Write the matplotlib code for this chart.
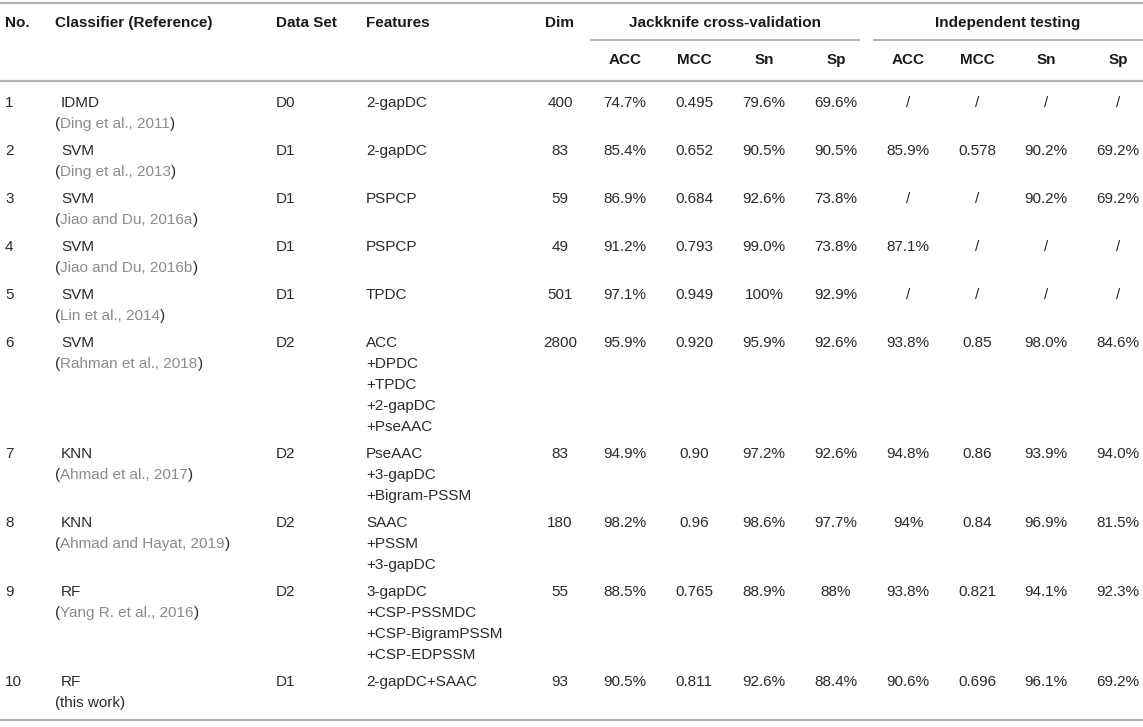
import matplotlib
matplotlib.use("Agg")
import matplotlib.pyplot as plt

plt.rcParams["font.family"] = ["Liberation Sans", "DejaVu Sans"]

# table content
numbers = ["1", "2", "3", "4", "5", "6", "7", "8", "9", "10"]
classifiers = ["IDMD", "SVM", "SVM", "SVM", "SVM", "SVM", "KNN", "KNN", "RF", "RF"]
references = [
    "Ding et al., 2011", "Ding et al., 2013", "Jiao and Du, 2016a",
    "Jiao and Du, 2016b", "Lin et al., 2014", "Rahman et al., 2018",
    "Ahmad et al., 2017", "Ahmad and Hayat, 2019", "Yang R. et al., 2016",
    "this work",
]
data_sets = ["D0", "D1", "D1", "D1", "D1", "D2", "D2", "D2", "D2", "D1"]
features = [
    ["2-gapDC"],
    ["2-gapDC"],
    ["PSPCP"],
    ["PSPCP"],
    ["TPDC"],
    ["ACC", "+DPDC", "+TPDC", "+2-gapDC", "+PseAAC"],
    ["PseAAC", "+3-gapDC", "+Bigram-PSSM"],
    ["SAAC", "+PSSM", "+3-gapDC"],
    ["3-gapDC", "+CSP-PSSMDC", "+CSP-BigramPSSM", "+CSP-EDPSSM"],
    ["2-gapDC+SAAC"],
]
dims = ["400", "83", "59", "49", "501", "2800", "83", "180", "55", "93"]
jack_acc = ["74.7%", "85.4%", "86.9%", "91.2%", "97.1%", "95.9%", "94.9%", "98.2%", "88.5%", "90.5%"]
jack_mcc = ["0.495", "0.652", "0.684", "0.793", "0.949", "0.920", "0.90", "0.96", "0.765", "0.811"]
jack_sn = ["79.6%", "90.5%", "92.6%", "99.0%", "100%", "95.9%", "97.2%", "98.6%", "88.9%", "92.6%"]
jack_sp = ["69.6%", "90.5%", "73.8%", "73.8%", "92.9%", "92.6%", "92.6%", "97.7%", "88%", "88.4%"]
ind_acc = ["/", "85.9%", "/", "87.1%", "/", "93.8%", "94.8%", "94%", "93.8%", "90.6%"]
ind_mcc = ["/", "0.578", "/", "/", "/", "0.85", "0.86", "0.84", "0.821", "0.696"]
ind_sn = ["/", "90.2%", "90.2%", "/", "/", "98.0%", "93.9%", "96.9%", "94.1%", "96.1%"]
ind_sp = ["/", "69.2%", "69.2%", "/", "/", "84.6%", "94.0%", "81.5%", "92.3%", "69.2%"]

left_headers = ["No.", "Classifier (Reference)", "Data Set", "Features"]
group_headers = ["Jackknife cross-validation", "Independent testing"]
metric_headers = ["ACC", "MCC", "Sn", "Sp"]

W, H = 1143, 727
fig = plt.figure(figsize=(W / 100, H / 100), dpi=100)
ax = fig.add_axes([0, 0, 1, 1])
ax.set_xlim(0, W)
ax.set_ylim(H, 0)
ax.axis("off")

FS = 11
TXT = "#2b2b2b"
HDR = "#1a1a1a"
CITE = "#8a8a8a"
RULE = "#b4b4b4"

x_no, x_cls, x_ds, x_feat, x_dim = 5, 55, 276, 366, 560
metric_x = [625, 694, 764, 836, 908, 977, 1046, 1118]

# rules
ax.hlines([3, 81, 720], 0, W, color=RULE, lw=1.6)
ax.hlines(40, 590, 860, color=RULE, lw=1.4)
ax.hlines(40, 873, W, color=RULE, lw=1.4)

# header
for x, label in zip([x_no, x_cls, x_ds, x_feat], left_headers):
    ax.text(x, 23, label, fontsize=FS, fontweight="bold", color=HDR, va="center", ha="left")
ax.text(x_dim, 23, "Dim", fontsize=FS, fontweight="bold", color=HDR, va="center", ha="center")
ax.text(725, 23, group_headers[0], fontsize=FS, fontweight="bold", color=HDR, va="center", ha="center")
ax.text(1008, 23, group_headers[1], fontsize=FS, fontweight="bold", color=HDR, va="center", ha="center")
for i, x in enumerate(metric_x):
    ax.text(x, 60, metric_headers[i % 4], fontsize=FS, fontweight="bold", color=HDR, va="center", ha="center")

renderer = fig.canvas.get_renderer()


def width_of(t):
    return t.get_window_extent(renderer).width


LINE = 21
PAD = 6
y = 103
columns = [jack_acc, jack_mcc, jack_sn, jack_sp, ind_acc, ind_mcc, ind_sn, ind_sp]
for i in range(len(numbers)):
    ax.text(x_no, y, numbers[i], fontsize=FS, color=TXT, va="center")
    ax.text(x_cls + 6, y, classifiers[i], fontsize=FS, color=TXT, va="center")
    ax.text(x_ds, y, data_sets[i], fontsize=FS, color=TXT, va="center")
    ax.text(x_dim, y, dims[i], fontsize=FS, color=TXT, va="center", ha="center")
    for k, col in enumerate(columns):
        ax.text(metric_x[k], y, col[i], fontsize=FS, color=TXT, va="center", ha="center")
    for j, f in enumerate(features[i]):
        ax.text(x_feat, y + j * LINE, f, fontsize=FS, color=TXT, va="center")

    # reference: black parentheses around a grey citation
    yc = y + LINE
    ref_color = TXT if references[i] == "this work" else CITE
    t1 = ax.text(x_cls, yc, "(", fontsize=FS, color=TXT, va="center")
    x2 = x_cls + width_of(t1)
    t2 = ax.text(x2, yc, references[i], fontsize=FS, color=ref_color, va="center")
    ax.text(x2 + width_of(t2), yc, ")", fontsize=FS, color=TXT, va="center")

    n = max(2, len(features[i]))
    y += n * LINE + PAD

fig.savefig("out.png", dpi=100)
